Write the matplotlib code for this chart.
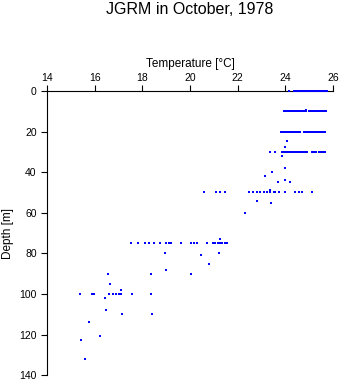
import numpy as np
import matplotlib
matplotlib.use('Agg')
import matplotlib.pyplot as plt

plt.rcParams['font.family'] = ['Liberation Sans', 'DejaVu Sans']

# temperature readings at the standard depths
t0 = [24.13, 24.34, 24.42, 24.50, 24.58, 24.66, 24.74, 24.82, 24.90, 24.98,
      25.06, 25.14, 25.22, 25.34, 25.42, 25.50, 25.58, 25.66, 25.76]
t10 = [23.92, 24.0, 24.08, 24.16, 24.24, 24.32, 24.40, 24.48, 24.56, 24.64,
       24.72, 24.76, 24.84, 25.0, 25.08, 25.16, 25.24, 25.32, 25.40, 25.48,
       25.56, 25.64, 25.68]
t20 = [23.83, 23.91, 23.99, 24.07, 24.15, 24.23, 24.31, 24.39, 24.47, 24.55,
       24.63, 24.76, 24.84, 24.92, 25.0, 25.08, 25.16, 25.24, 25.32, 25.40,
       25.48, 25.56, 25.64]
t30 = [23.35, 23.55, 23.85, 23.93, 24.01, 24.09, 24.17, 24.25, 24.33, 24.41,
       24.49, 24.57, 24.65, 24.73, 24.81, 24.89, 25.1, 25.18, 25.26, 25.4,
       25.48, 25.56, 25.64]
t50 = [20.6, 21.1, 21.25, 21.45, 22.45, 22.65, 22.8, 22.95, 23.08, 23.22,
       23.36, 23.5, 23.58, 23.72, 23.96, 24.42, 24.55, 24.68, 25.12]
t75 = [17.5, 17.8, 18.12, 18.26, 18.48, 18.72, 18.98, 19.1, 19.2, 19.62,
       20.05, 20.15, 20.28, 20.72, 20.95, 21.05, 21.15, 21.25, 21.35, 21.45,
       21.55]
t100 = [15.4, 15.88, 15.98, 16.6, 16.75, 16.9, 17.0, 17.1, 17.55, 18.38]

# other readings (temperature, depth)
t_other = [24.84, 24.08, 24.0, 23.86, 23.96, 23.45, 23.16, 23.69, 23.96, 24.21,
           23.37, 22.82, 23.41, 22.3, 21.26, 18.95, 20.46, 21.22, 20.8, 18.36,
           18.99, 20.04, 16.56, 16.64, 17.1, 16.44, 16.48, 17.15, 18.41, 15.76,
           16.23, 15.43, 15.6]
d_other = [9.3, 24.6, 27.6, 31.8, 38, 40, 42, 45, 44, 45,
           49, 54, 55, 60, 73, 80, 81, 80, 85, 90,
           88, 90, 90, 95, 98, 102, 108, 110, 110, 114,
           120.7, 122.7, 132]

temps = t0 + t10 + t20 + t30 + t50 + t75 + t100 + t_other
depths = ([0] * len(t0) + [10] * len(t10) + [20] * len(t20) + [30] * len(t30)
          + [50] * len(t50) + [75] * len(t75) + [100] * len(t100) + d_other)

fig = plt.figure(figsize=(3.41, 3.84), dpi=100)
ax = fig.add_axes([0.138, 0.023, 0.839, 0.74])

ax.scatter(temps, depths, s=4.5, marker='s', color='#0000ff', linewidths=0,
           clip_on=False, zorder=3)

ax.set_xlim(14, 26)
ax.set_ylim(140, 0)
ax.set_xticks(np.arange(14, 27, 2))
ax.set_yticks(np.arange(0, 141, 20))

ax.xaxis.tick_top()
ax.xaxis.set_label_position('top')
ax.spines['right'].set_visible(False)
ax.spines['bottom'].set_visible(False)
for s in ['top', 'left']:
    ax.spines[s].set_linewidth(0.8)
ax.tick_params(axis='x', direction='out', length=4, width=0.8, pad=2, labelsize=7.5)
ax.tick_params(axis='y', direction='out', length=4.5, width=0.8, pad=3, labelsize=7.5)

ax.set_xlabel('Temperature [°C]', fontsize=8.5, labelpad=4)
ax.set_ylabel('Depth [m]', fontsize=8.5, labelpad=4)
fig.text(0.557, 0.974, 'JGRM in October, 1978', ha='center', va='center', fontsize=11.5)

fig.savefig('out.png', dpi=100)
